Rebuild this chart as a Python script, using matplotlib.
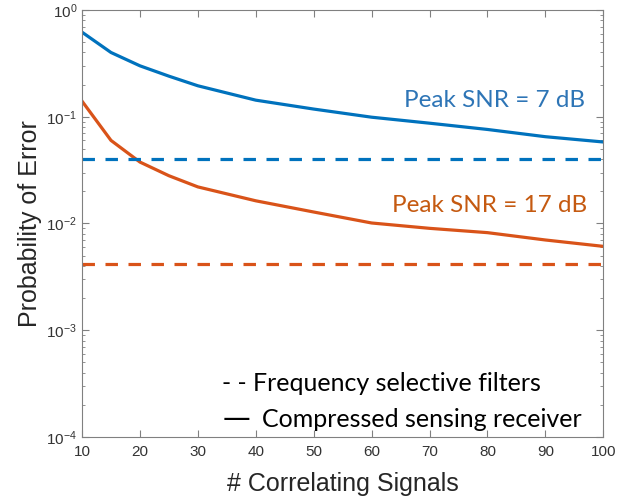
import numpy as np
import matplotlib.pyplot as plt
from matplotlib.ticker import LogLocator, NullFormatter

# values
n_signals = [10, 15, 20, 25, 30, 40, 50, 60, 70, 80, 90, 100]
pe_cs_7db = [0.62, 0.40, 0.30, 0.24, 0.195, 0.143, 0.118, 0.099, 0.087, 0.076, 0.065, 0.058]
pe_cs_17db = [0.14, 0.060, 0.0376, 0.028, 0.022, 0.0163, 0.0128, 0.0101, 0.0090, 0.0082, 0.0070, 0.0061]
pe_fsf_7db = 0.040
pe_fsf_17db = 0.0042

blue = '#0072BD'
orange = '#D95319'
axcol = '#808080'

fig = plt.figure(figsize=(6.31, 5.01), dpi=100)
ax = fig.add_axes([0.130, 0.128, 0.826, 0.852])

dash = (0, (3.9, 3.3))
ax.semilogy(n_signals, pe_cs_7db, color=blue, lw=2.3)
ax.semilogy(n_signals, pe_cs_17db, color=orange, lw=2.3)
ax.axhline(pe_fsf_7db, color=blue, lw=2.3, ls=dash)
ax.axhline(pe_fsf_17db, color=orange, lw=2.3, ls=dash)

ax.set_xlim(10, 100)
ax.set_ylim(1e-4, 1)
ax.set_xticks(np.arange(10, 101, 10))
ax.yaxis.set_major_locator(LogLocator(base=10, numticks=10))
ax.yaxis.set_minor_locator(LogLocator(base=10, subs=np.arange(2, 10), numticks=10))
ax.yaxis.set_minor_formatter(NullFormatter())

for s in ax.spines.values():
    s.set_color(axcol)
    s.set_linewidth(0.8)
ax.tick_params(which='both', direction='in', top=True, right=True, color=axcol,
               labelcolor='#333333', labelsize=11)
ax.tick_params(which='major', length=5)
ax.tick_params(which='minor', length=2.5)
ax.tick_params(axis='x', pad=6)
for lbl in ax.get_xticklabels() + ax.get_yticklabels():
    lbl.set_family('Liberation Sans')

ax.set_xlabel('# Correlating Signals', fontsize=18, family='Liberation Sans', color='#262626', labelpad=9)
ax.set_ylabel('Probability of Error', fontsize=18, family='Liberation Sans', color='#262626', labelpad=3)

ax.text(96.9, 0.1234, 'Peak SNR = 7 dB', color='#2E75B6', fontsize=17.5, family='Lato',
        ha='right', va='baseline')
ax.text(97.2, 0.0128, 'Peak SNR = 17 dB', color='#C55A11', fontsize=17.5, family='Lato',
        ha='right', va='baseline')
ax.text(34.2, 2.7e-4, '- - Frequency selective filters', color='black', fontsize=18,
        family='Lato', ha='left', va='baseline')
# the em dash is drawn on its own so it keeps its full width
ax.text(34.2, 1.24e-4, '\u2014', color='black', fontsize=20, family='DejaVu Sans',
        ha='left', va='baseline')
ax.text(41.0, 1.24e-4, 'Compressed sensing receiver', color='black', fontsize=18,
        family='Lato', ha='left', va='baseline')

fig.savefig('out.png', dpi=100)
